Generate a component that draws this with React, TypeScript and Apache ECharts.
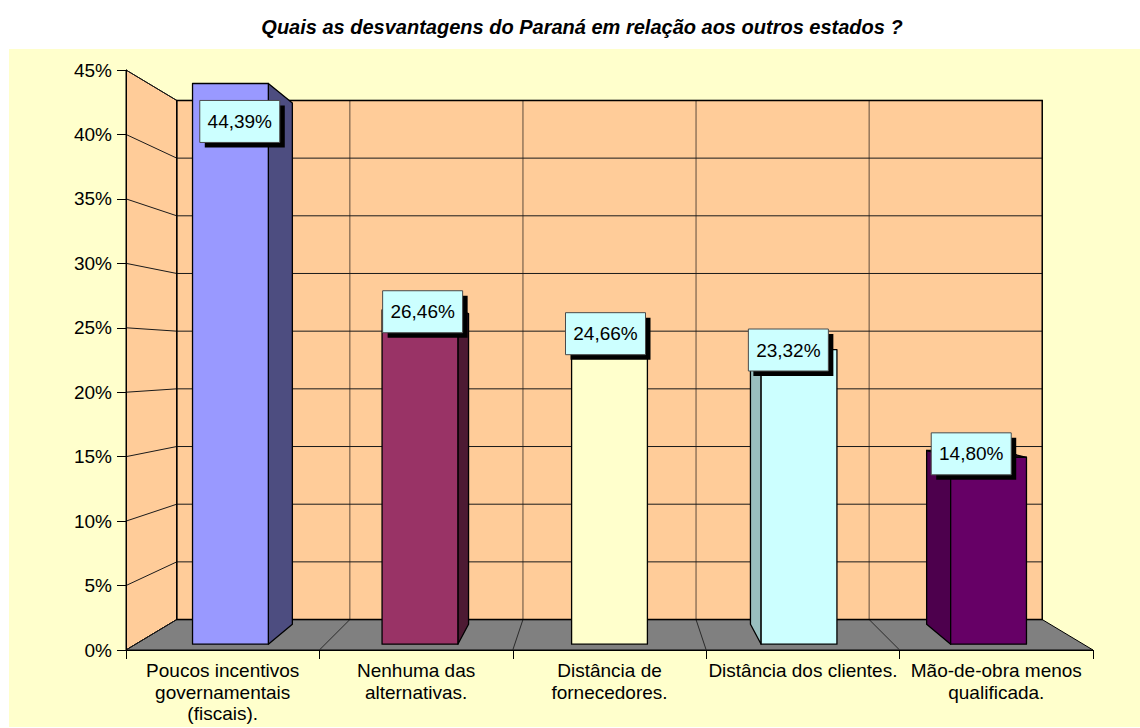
import React, { useEffect, useRef } from 'react';
import * as echarts from 'echarts';

const chartTitle = 'Quais as desvantagens do Paraná em relação aos outros estados ?';
const categories = [
  'Poucos incentivos\ngovernamentais\n(fiscais).',
  'Nenhuma das\nalternativas.',
  'Distância de\nfornecedores.',
  'Distância dos clientes.',
  'Mão-de-obra menos\nqualificada.',
];
const values = [44.39, 26.46, 24.66, 23.32, 14.8];
const yTicks = [0, 5, 10, 15, 20, 25, 30, 35, 40, 45];

const frontColors = ['#9999FF', '#993366', '#FFFFCC', '#CCFFFF', '#660066'];
const sideColors = ['#4D4D80', '#4D1A33', '#80806A', '#99BFBF', '#4D004D'];
const topColors = ['#B3B3FF', '#B35C85', '#FFFFE0', '#E0FFFF', '#5C005C'];

const FONT = '"Liberation Sans", Arial, Helvetica, sans-serif';
const S_WALL = 0.895;
const S_FRONT = 0.98;
const S_BACK = 0.911;
const BAR_RATIO = 0.4;
const LABEL_W = 80;
const LABEL_H = 42;

const fmt = (v: number) => v.toFixed(2).replace('.', ',') + '%';

function makeProj(params: any) {
  const cs = params.coordSys;
  const cx = cs.x + cs.width / 2;
  const cy = cs.y + cs.height / 2;
  return {
    cx,
    cy,
    P: (x: number, y: number, s: number) => [cx + (x - cx) * s, cy + (y - cy) * s],
  };
}

const wallsRender = (params: any, api: any) => {
  const { P } = makeProj(params);
  const band = api.size([1, 0])[0];
  const n = categories.length;
  const x0 = api.coord([0, 0])[0] - band / 2;
  const x1 = api.coord([n - 1, 0])[0] + band / 2;
  const yB = api.coord([0, yTicks[0]])[1];
  const yT = api.coord([0, yTicks[yTicks.length - 1]])[1];
  const children: any[] = [];
  children.push({
    type: 'polygon',
    shape: { points: [P(x0, yT, S_WALL), P(x1, yT, S_WALL), P(x1, yB, S_WALL), P(x0, yB, S_WALL)] },
    style: { fill: '#FFCC99', stroke: 'none' },
  });
  children.push({
    type: 'polygon',
    shape: { points: [[x0, yT], P(x0, yT, S_WALL), P(x0, yB, S_WALL), [x0, yB]] },
    style: { fill: '#FFCC99', stroke: '#000', lineWidth: 1 },
  });
  children.push({
    type: 'polygon',
    shape: { points: [[x0, yB], [x1, yB], P(x1, yB, S_WALL), P(x0, yB, S_WALL)] },
    style: { fill: '#808080', stroke: '#000', lineWidth: 1 },
  });
  for (let k = 1; k < n; k++) {
    const xb = api.coord([k, 0])[0] - band / 2;
    const a = P(xb, yB, S_WALL);
    const b = P(xb, yT, S_WALL);
    children.push({
      type: 'line',
      shape: { x1: a[0], y1: a[1], x2: b[0], y2: b[1] },
      style: { stroke: '#5E4B3C', lineWidth: 1 },
    });
    children.push({
      type: 'line',
      shape: { x1: xb, y1: yB, x2: a[0], y2: a[1] },
      style: { stroke: '#2A2A2A', lineWidth: 1 },
    });
  }
  yTicks.forEach((t) => {
    const y = api.coord([0, t])[1];
    const a = P(x0, y, S_WALL);
    const b = P(x1, y, S_WALL);
    children.push({
      type: 'line',
      shape: { x1: a[0], y1: a[1], x2: b[0], y2: b[1] },
      style: { stroke: '#1A1A1A', lineWidth: 1 },
    });
    children.push({
      type: 'line',
      shape: { x1: x0, y1: y, x2: a[0], y2: a[1] },
      style: { stroke: '#1A1A1A', lineWidth: 1 },
    });
  });
  // back wall outline
  children.push({
    type: 'polygon',
    shape: { points: [P(x0, yT, S_WALL), P(x1, yT, S_WALL), P(x1, yB, S_WALL), P(x0, yB, S_WALL)] },
    style: { fill: 'none', stroke: '#000', lineWidth: 1.5 },
  });
  return { type: 'group', children };
};

const barsRender = (params: any, api: any) => {
  const { P, cx, cy } = makeProj(params);
  const i = params.dataIndex;
  const v = api.value(1);
  const top = api.coord([i, v]);
  const bot = api.coord([i, 0]);
  const half = (api.size([1, 0])[0] * BAR_RATIO) / 2;
  const xl = top[0] - half;
  const xr = top[0] + half;
  const yt = top[1];
  const yb = bot[1];
  const edge = { stroke: '#000', lineWidth: 1.3, lineJoin: 'round' };
  const children: any[] = [];
  if (xr < cx - 1) {
    children.push({
      type: 'polygon',
      shape: { points: [P(xr, yt, S_FRONT), P(xr, yt, S_BACK), P(xr, yb, S_BACK), P(xr, yb, S_FRONT)] },
      style: { fill: sideColors[i], ...edge },
    });
  } else if (xl > cx + 1) {
    children.push({
      type: 'polygon',
      shape: { points: [P(xl, yt, S_FRONT), P(xl, yt, S_BACK), P(xl, yb, S_BACK), P(xl, yb, S_FRONT)] },
      style: { fill: sideColors[i], ...edge },
    });
  }
  if (yt > cy) {
    children.push({
      type: 'polygon',
      shape: { points: [P(xl, yt, S_FRONT), P(xr, yt, S_FRONT), P(xr, yt, S_BACK), P(xl, yt, S_BACK)] },
      style: { fill: topColors[i], ...edge },
    });
  }
  children.push({
    type: 'polygon',
    shape: { points: [P(xl, yt, S_FRONT), P(xr, yt, S_FRONT), P(xr, yb, S_FRONT), P(xl, yb, S_FRONT)] },
    style: { fill: frontColors[i], ...edge },
  });
  return { type: 'group', children };
};

const labelsRender = (params: any, api: any) => {
  const { P } = makeProj(params);
  const i = params.dataIndex;
  const v = api.value(1);
  const top = api.coord([i, v]);
  const wallTop = P(top[0], api.coord([0, yTicks[yTicks.length - 1]])[1], S_WALL)[1];
  const sMid = (S_FRONT + S_BACK) / 2;
  const pt = P(top[0], top[1], sMid);
  const lx = pt[0] - 4;
  const ly = Math.max(pt[1], wallTop + LABEL_H / 2);
  return {
    type: 'group',
    children: [
      {
        type: 'rect',
        shape: { x: lx - LABEL_W / 2 + 5, y: ly - LABEL_H / 2 + 5, width: LABEL_W, height: LABEL_H },
        style: { fill: '#000' },
      },
      {
        type: 'rect',
        shape: { x: lx - LABEL_W / 2, y: ly - LABEL_H / 2, width: LABEL_W, height: LABEL_H },
        style: { fill: '#CCFFFF', stroke: '#4A4A4A', lineWidth: 1 },
      },
      {
        type: 'text',
        x: lx,
        y: ly,
        style: {
          text: fmt(v),
          fill: '#000',
          font: `19px ${FONT}`,
          textAlign: 'center',
          textVerticalAlign: 'middle',
        },
      },
    ],
  };
};

export default function App() {
  const ref = useRef<HTMLDivElement>(null);
  useEffect(() => {
    if (!ref.current) return;
    const chart = echarts.init(ref.current, null, { renderer: 'svg' });
    const data = values.map((v, i) => [i, v]);
    chart.setOption({
      animation: false,
      backgroundColor: '#FFFFFF',
      graphic: [
        {
          type: 'rect',
          z: -100,
          shape: { x: 9, y: 49, width: 1131, height: 678 },
          style: { fill: '#FFFFCC' },
        },
        {
          type: 'text',
          z: 100,
          x: 582,
          y: 27,
          style: {
            text: chartTitle,
            fill: '#000',
            font: `italic bold 20px ${FONT}`,
            textAlign: 'center',
            textVerticalAlign: 'middle',
          },
        },
      ],
      grid: { left: 126, right: 47, top: 70, bottom: 78 },
      xAxis: {
        type: 'category',
        data: categories,
        z: 10,
        axisLine: { show: true, lineStyle: { color: '#000', width: 1 } },
        axisTick: { show: true, length: 9, lineStyle: { color: '#000' } },
        axisLabel: {
          interval: 0,
          color: '#000',
          fontFamily: FONT,
          fontSize: 19,
          lineHeight: 21.5,
          margin: 10,
        },
        splitLine: { show: false },
      },
      yAxis: {
        type: 'value',
        min: 0,
        max: 45,
        interval: 5,
        z: 10,
        axisLine: { show: true, lineStyle: { color: '#000', width: 1 } },
        axisTick: { show: true, length: 9, lineStyle: { color: '#000' } },
        axisLabel: {
          formatter: '{value}%',
          color: '#000',
          fontFamily: FONT,
          fontSize: 19,
          margin: 14,
        },
        splitLine: { show: false },
      },
      series: [
        {
          type: 'custom',
          name: 'walls',
          z: 1,
          clip: false,
          silent: true,
          renderItem: wallsRender,
          data: [[0, 0]],
          encode: { x: 0, y: 1 },
        },
        {
          type: 'custom',
          name: 'bars',
          z: 3,
          clip: false,
          renderItem: barsRender,
          data,
          encode: { x: 0, y: 1 },
        },
        {
          type: 'custom',
          name: 'labels',
          z: 5,
          clip: false,
          renderItem: labelsRender,
          data,
          encode: { x: 0, y: 1 },
        },
      ],
    });
    return () => chart.dispose();
  }, []);
  return (
    <div
      ref={ref}
      style={{ position: 'fixed', left: 0, top: 0, width: 1140, height: 728 }}
    />
  );
}
